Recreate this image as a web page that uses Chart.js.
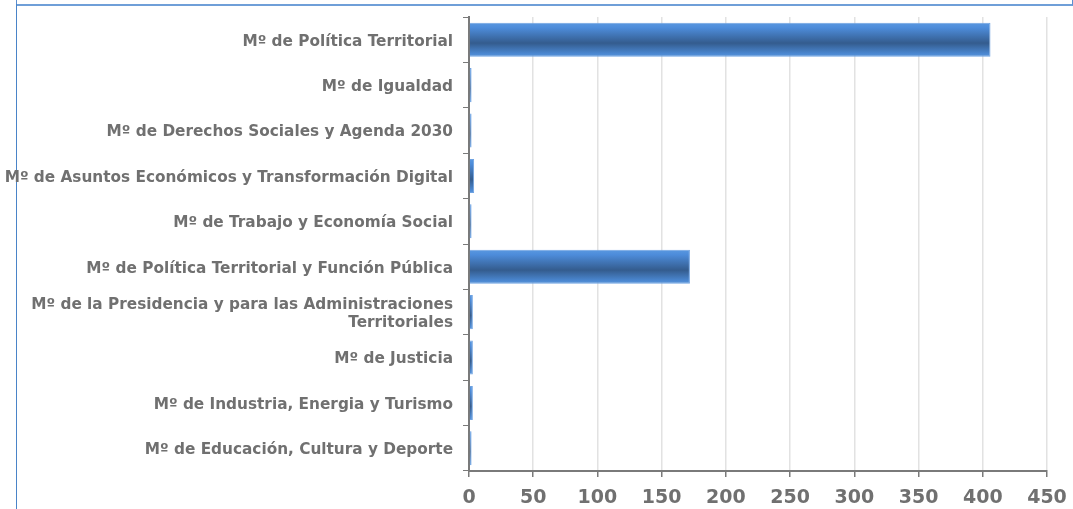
<!DOCTYPE html>
<html>
<head>
<meta charset="utf-8">
<script src="https://cdn.jsdelivr.net/npm/chart.js@4.4.1/dist/chart.umd.min.js"></script>
<style>
  html, body { margin: 0; padding: 0; background: #fff; }
  #wrap { position: relative; width: 1073px; height: 509px; overflow: hidden; }
  #topBox { position: absolute; left: 16px; top: -20px; width: 1055px; height: 23px; border: 1px solid #5b8fd0; border-bottom: 2px solid #6f9fd8; }
  #leftLine { position: absolute; left: 16px; top: 4px; width: 1px; height: 505px; background: #4a84c8; }
  canvas { position: absolute; left: 0; top: 0; }
</style>
</head>
<body>
<div id="wrap">
  <div id="topBox"></div>
  <div id="leftLine"></div>
  <canvas id="chart" width="1073" height="509"></canvas>
</div>
<script>
// categories, top to bottom as in the picture
const ministries = [
  'Mº de Política Territorial',
  'Mº de Igualdad',
  'Mº de Derechos Sociales y Agenda 2030',
  'Mº de Asuntos Económicos y Transformación Digital',
  'Mº de Trabajo y Economía Social',
  'Mº de Política Territorial y Función Pública',
  ['Mº de la Presidencia y para las Administraciones', 'Territoriales'],
  'Mº de Justicia',
  'Mº de Industria, Energia y Turismo',
  'Mº de Educación, Cultura y Deporte'
];
const counts = [406, 2, 2, 4, 2, 172, 3, 3, 3, 2];
const xMax = 450;
const xStep = 50;

const barPct = 0.75;
const textGray = '#707070';
const axisGray = '#7a7a7a';

// vertical shading of each bar, like the old office 3d-ish bars
function barGradient(ctx) {
  const chart = ctx.chart;
  const ys = chart.scales.y;
  if (!ys || ctx.dataIndex === undefined) return '#4a86cf';
  const cy = ys.getPixelForValue(ctx.dataIndex);
  const h = (ys.height / ministries.length) * barPct;
  if (!isFinite(cy) || !isFinite(h) || h <= 0) return '#4a86cf';
  const g = chart.ctx.createLinearGradient(0, cy - h / 2, 0, cy + h / 2);
  g.addColorStop(0, '#5a98e0');
  g.addColorStop(0.15, '#4d8cda');
  g.addColorStop(0.6, '#345c8e');
  g.addColorStop(0.9, '#4a86cf');
  g.addColorStop(1, '#5a96dc');
  return g;
}

// keep the plot box where the picture has it, whatever the label overhang
function noOverhang(s) {
  s.paddingLeft = 0;
  s.paddingRight = 0;
  s.paddingTop = 0;
  s.paddingBottom = 0;
}

new Chart(document.getElementById('chart'), {
  type: 'bar',
  data: {
    labels: ministries,
    datasets: [{
      data: counts,
      backgroundColor: barGradient,
      borderColor: '#6fa3e2',
      borderWidth: 1,
      barPercentage: barPct,
      categoryPercentage: 1
    }]
  },
  options: {
    indexAxis: 'y',
    responsive: false,
    animation: false,
    layout: { padding: { top: 17, right: 26, bottom: 0, left: 0 } },
    plugins: { legend: { display: false }, tooltip: { enabled: false } },
    scales: {
      x: {
        min: 0,
        max: xMax,
        ticks: {
          stepSize: xStep,
          color: textGray,
          padding: 10,
          font: { family: 'DejaVu Sans', weight: 'bold', size: 19 }
        },
        grid: { color: '#e2e2e2', lineWidth: 1.5, tickColor: axisGray, tickLength: 6 },
        border: { color: axisGray, width: 2 },
        afterFit: (s) => { s.height = 38; noOverhang(s); }
      },
      y: {
        ticks: {
          color: textGray,
          padding: 10,
          labelOffset: 2,
          autoSkip: false,
          font: { family: 'DejaVu Sans', weight: 'bold', size: 15.3 }
        },
        grid: { drawOnChartArea: false, tickColor: axisGray, tickLength: 6, offset: true },
        border: { color: axisGray, width: 2 },
        afterFit: (s) => { s.width = 469; noOverhang(s); }
      }
    }
  }
});
</script>
</body>
</html>
